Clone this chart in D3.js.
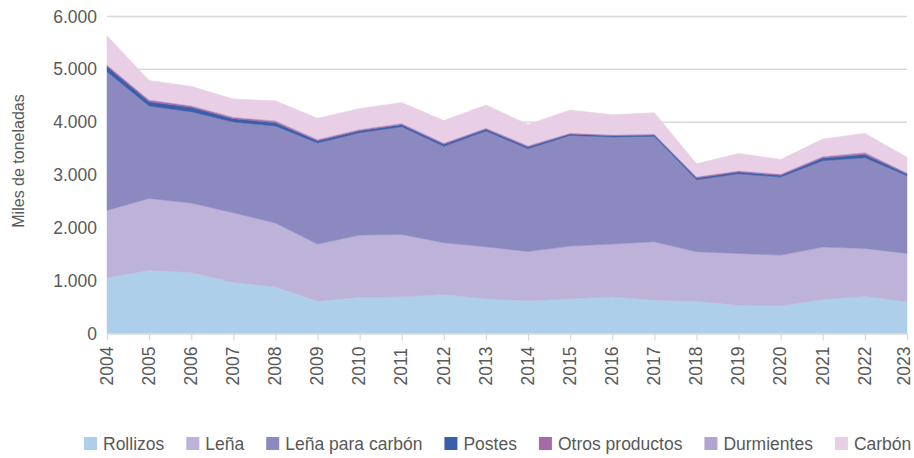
<!DOCTYPE html>
<meta charset="utf-8">
<style>
  body { margin: 0; background: #fff; }
  text { font-family: "Liberation Sans", Arial, sans-serif; fill: #595959; }
</style>
<script src="https://cdn.jsdelivr.net/npm/d3@7"></script>
<svg id="chart" width="914" height="458"></svg>
<script>

// data, miles de toneladas
const years = ["2004","2005","2006","2007","2008","2009","2010","2011","2012","2013",
               "2014","2015","2016","2017","2018","2019","2020","2021","2022","2023"];

const rollizos   = [1054,1199,1155, 972, 884, 612, 688, 694, 739, 657, 619, 657, 694, 631, 612, 537, 524, 644, 707, 600];
const lena       = [1276,1358,1313,1313,1206,1080,1174,1181, 978, 984, 934, 997, 998,1105, 935, 978, 960, 991, 903, 915];
const lenaCarbon = [2626,1748,1730,1717,1837,1913,1938,2039,1825,2191,1944,2096,2026,1995,1363,1509,1477,1635,1717,1471];
const postes     = [ 100,  83,  82,  63,  63,  44,  38,  38,  38,  32,  32,  25,  25,  25,  32,  32,  32,  50,  63,  32];
const otros      = [  20,  31,  25,  25,  25,  19,  19,  19,  19,  19,  19,  13,  13,  13,  19,  19,  19,  25,  25,  19];
const durmientes = [  15,  10,  13,  13,  19,  13,  13,  13,  13,  13,  13,  13,  12,  12,  12,  12,  12,  13,  19,  12];
const carbon     = [ 545, 360, 360, 335, 370, 391, 391, 387, 420, 428, 397, 429, 373, 397, 240, 322, 271, 322, 354, 287];

const yTicks = [0, 1000, 2000, 3000, 4000, 5000, 6000];

const series = [
  { key: "Rollizos",         values: rollizos,   color: "#aecfea" },
  { key: "Leña",             values: lena,       color: "#bdb3d9" },
  { key: "Leña para carbón", values: lenaCarbon, color: "#8c89c0" },
  { key: "Postes",           values: postes,     color: "#3a5fa8" },
  { key: "Otros productos",  values: otros,      color: "#a66aa8" },
  { key: "Durmientes",       values: durmientes, color: "#b1a4d0" },
  { key: "Carbón",           values: carbon,     color: "#e8cfe5" }
];

// table for d3.stack
const rows = years.map((yr, i) => {
  const r = { year: yr };
  series.forEach(s => r[s.key] = s.values[i]);
  return r;
});

const svg = d3.select("#chart");

const x = d3.scalePoint()
  .domain(years)
  .range([107, 907]);

const y = d3.scaleLinear()
  .domain([0, 6000])
  .range([333.5, 16.5]);

// gridlines
svg.append("g")
  .selectAll("line")
  .data(yTicks.slice(1))
  .join("line")
    .attr("x1", 107)
    .attr("x2", 907)
    .attr("y1", d => y(d))
    .attr("y2", d => y(d))
    .attr("stroke", "#d9d9d9")
    .attr("stroke-width", 1.5);

const stack = d3.stack().keys(series.map(s => s.key));
const layers = stack(rows);

const area = d3.area()
  .x(d => x(d.data.year))
  .y0(d => y(d[0]))
  .y1(d => y(d[1]));

svg.append("g")
  .selectAll("path")
  .data(layers)
  .join("path")
    .attr("d", area)
    .attr("fill", (d, i) => series[i].color)
    .attr("stroke", (d, i) => series[i].color)
    .attr("stroke-width", 0.5);

// x axis
const xAxis = svg.append("g")
  .attr("transform", `translate(0, ${y(0)})`)
  .call(d3.axisBottom(x).tickSize(7).tickSizeOuter(0));

xAxis.select(".domain").attr("stroke", "#d9d9d9").attr("stroke-width", 1.5);
xAxis.selectAll(".tick line").attr("stroke", "#d9d9d9").attr("stroke-width", 1.2);
xAxis.selectAll("text")
  .attr("transform", "rotate(-90)")
  .attr("x", -52)
  .attr("y", 0)
  .attr("dy", (d, i) => i === years.length - 1 ? "0.12em" : "0.3em")
  .style("text-anchor", "start")
  .style("font-size", "17.5px");

// y axis labels
const yAxis = svg.append("g")
  .attr("transform", "translate(97, 0)")
  .call(d3.axisLeft(y).tickValues(yTicks).tickSize(0)
          .tickFormat(d => d3.format(",")(d).replace(/,/g, ".")));

yAxis.select(".domain").remove();
yAxis.selectAll("text")
  .attr("x", 0)
  .style("font-size", "17.5px");

svg.append("text")
  .attr("transform", "translate(24, 161) rotate(-90)")
  .attr("text-anchor", "middle")
  .style("font-size", "16px")
  .text("Miles de toneladas");

// legend
const legend = svg.append("g").attr("class", "legend");
let lx = 84;
series.forEach(s => {
  legend.append("rect")
    .attr("x", lx)
    .attr("y", 437)
    .attr("width", 13)
    .attr("height", 13)
    .attr("fill", s.color);
  const t = legend.append("text")
    .attr("x", lx + 19)
    .attr("y", 450)
    .style("font-size", "17.5px")
    .text(s.key);
  lx += 19 + t.node().getComputedTextLength() + 22;
});

</script>
